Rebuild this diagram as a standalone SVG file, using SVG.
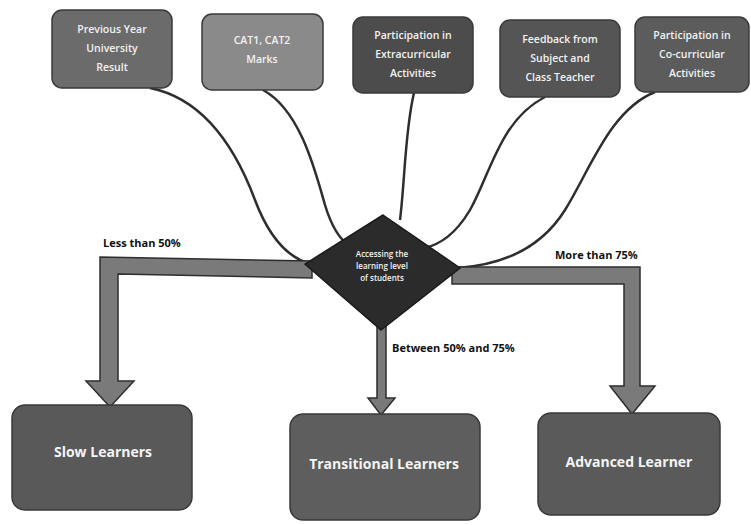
<svg xmlns="http://www.w3.org/2000/svg" width="751" height="525" viewBox="0 0 751 525">
<defs>
<style>
.box{stroke:#3a3a3a;stroke-width:1.5}
.t{font-family:"Open Sans","Liberation Sans",sans-serif;font-size:10.5px;font-weight:600;fill:#f2f2f2;text-anchor:middle}
.bt{font-family:"Open Sans","Liberation Sans",sans-serif;font-size:14px;font-weight:bold;fill:#f4f4f4;text-anchor:middle}
.lbl{font-family:"Open Sans","Liberation Sans",sans-serif;font-size:11px;font-weight:bold;fill:#111}
.curve{fill:none;stroke:#2e2e2e;stroke-width:2.5}
.bar{fill:#7a7a7a;stroke:#2e2e2e;stroke-width:1.5}
</style>
</defs>
<rect width="751" height="525" fill="#ffffff"/>
<g id="connectors">
<path class="curve" d="M150,88 C210,100 240,160 255,200 C270,240 290,258 310,264"/>
<path class="curve" d="M263,90 C300,110 315,170 325,205 C332,228 340,240 350,246"/>
<path class="curve" d="M414,93 C405,130 405,180 400,220"/>
<path class="curve" d="M545,97 C500,120 490,175 470,210 C455,235 440,244 425,248"/>
<path class="curve" d="M655,92 C610,110 590,170 565,210 C540,250 500,265 458,268"/>
<path class="bar" d="M312,261 L100,257 L100,381 L86,381 L110,407 L134,381 L118,381 L118,274 L312,278 Z"/>
<path class="bar" d="M452,267 L640,267 L640,386 L655,386 L632,414 L610,386 L624,386 L624,284 L452,284 Z"/>
<path class="bar" d="M377,326 L386,326 L386,398 L395,398 L381,415 L368,398 L377,398 Z"/>
</g>
<g id="n1"><rect class="box" x="52" y="10" width="120" height="78" rx="10" fill="#6b6b6b"/>
<text class="t" x="112" y="33">Previous Year</text><text class="t" x="112" y="52">University</text><text class="t" x="112" y="71">Result</text></g>
<g id="n2"><rect class="box" x="202" y="14" width="121" height="76" rx="10" fill="#8a8a8a"/>
<text class="t" x="262" y="44">CAT1, CAT2</text><text class="t" x="262" y="63">Marks</text></g>
<g id="n3"><rect class="box" x="353" y="17" width="120" height="76" rx="10" fill="#4c4c4c"/>
<text class="t" x="413" y="39">Participation in</text><text class="t" x="413" y="58">Extracurricular</text><text class="t" x="413" y="77">Activities</text></g>
<g id="n4"><rect class="box" x="500" y="20" width="120" height="77" rx="10" fill="#555555"/>
<text class="t" x="560" y="43">Feedback from</text><text class="t" x="560" y="62">Subject and</text><text class="t" x="560" y="81">Class Teacher</text></g>
<g id="n5"><rect class="box" x="635" y="17" width="114" height="75" rx="10" fill="#5c5c5c"/>
<text class="t" x="692" y="39">Participation in</text><text class="t" x="692" y="58">Co-curricular</text><text class="t" x="692" y="77">Activities</text></g>
<g id="center"><polygon points="383,215 460,268 381,330 305,264" fill="#2b2b2b" stroke="#1a1a1a" stroke-width="1.5"/>
<text class="t" style="font-size:8px" x="382" y="257">Accessing the</text>
<text class="t" style="font-size:8px" x="382" y="269">learning level</text>
<text class="t" style="font-size:8px" x="382" y="281">of students</text></g>
<g id="labels">
<text class="lbl" x="103" y="247">Less than 50%</text>
<text class="lbl" x="555" y="259">More than 75%</text>
<text class="lbl" x="392" y="352">Between 50% and 75%</text>
</g>
<g id="slow"><rect class="box" x="12" y="405" width="180" height="105" rx="13" fill="#595959"/>
<text class="bt" x="103" y="457">Slow Learners</text></g>
<g id="transitional"><rect class="box" x="290" y="414" width="190" height="106" rx="13" fill="#5e5e5e"/>
<text class="bt" x="384" y="469">Transitional Learners</text></g>
<g id="advanced"><rect class="box" x="538" y="413" width="182" height="102" rx="13" fill="#5a5a5a"/>
<text class="bt" x="629" y="467">Advanced Learner</text></g>
</svg>
